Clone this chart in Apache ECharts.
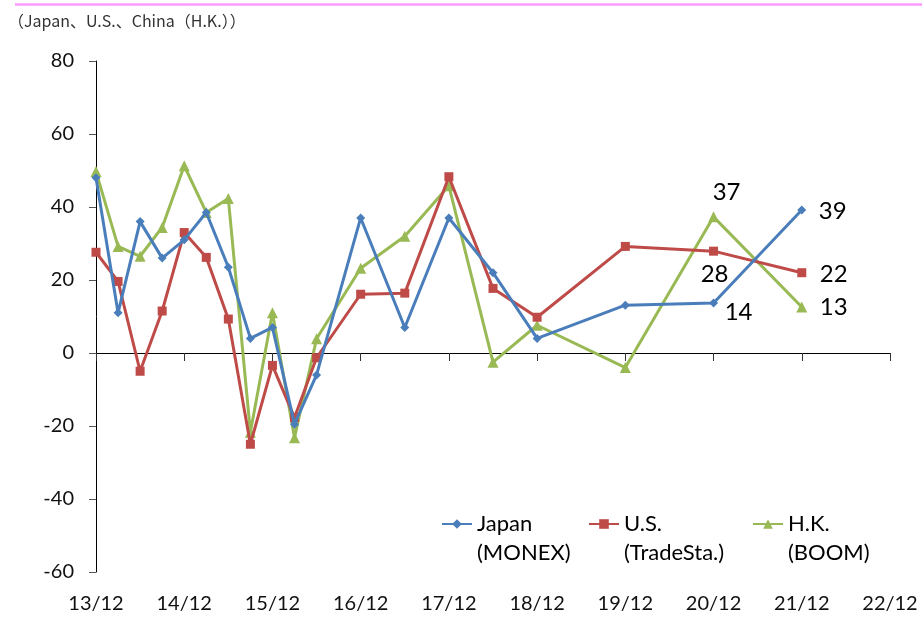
<!DOCTYPE html>
<html><head><meta charset="utf-8">
<script src="https://cdn.jsdelivr.net/npm/echarts@6/dist/echarts.min.js"></script>
<style>html,body{margin:0;padding:0;background:#fff}#c{width:922px;height:617px}</style>
</head><body><div id="c"></div>
<script>
// quarter index from 13/12 (0 = 13/12, 4 = 14/12, ...)
const quarters = [0,1,2,3,4,5,6,7,8,9,10,12,14,16,18,20,24,28,32];
const japan = [48, 11, 36, 26, 31, 38.5, 23.5, 4, 7, -19.5, -6, 37, 7, 37, 22, 4, 13.1, 13.7, 39.2];
const us    = [27.6, 19.6, -5, 11.5, 33, 26.2, 9.3, -25, -3.4, -17.7, -1.3, 16.1, 16.4, 48.3, 17.7, 9.8, 29.2, 27.9, 22];
const hk    = [49.7, 29.2, 26.5, 34.4, 51.3, 38.5, 42.3, -21.7, 11, -23.2, 3.9, 23.2, 32, 45.8, -2.5, 7.6, -4, 37.3, 12.6];
const seriesNames = ['Japan', 'U.S.', 'H.K.'];
const seriesSub = ['(MONEX)', '(TradeSta.)', '(BOOM)'];
const xTickLabels = ['13/12','14/12','15/12','16/12','17/12','18/12','19/12','20/12','21/12','22/12'];
const yTicks = [-60,-40,-20,0,20,40,60,80];
const titleText = '（Japan、U.S.、China（H.K.））';

const FONT = 'Lato, "Open Sans", sans-serif';
const colors = ['#4A7EBB', '#BE4B48', '#98B954'];
const symbols = ['diamond', 'rect', 'triangle'];
const symSizes = [9, 9, 11];
// label offsets for the labelled points (index in data -> offset)
const labelCfg = [
  {17: [25, 9], 18: [31, 1]},
  {17: [1, 23], 18: [32, 2]},
  {17: [13, -25], 18: [32, 0]}
];

function buildData(vals, cfg) {
  return vals.map((v, i) => {
    const item = {value: [quarters[i], v]};
    if (cfg[i]) {
      item.label = {
        show: true, position: 'inside', offset: cfg[i],
        formatter: p => String(Math.round(p.value[1])),
        fontSize: 24, fontFamily: FONT, color: '#000'
      };
    }
    return item;
  });
}

const allVals = [japan, us, hk];
const series = seriesNames.map((n, si) => ({
  name: n, type: 'line', xAxisIndex: 0, yAxisIndex: 0,
  data: buildData(allVals[si], labelCfg[si]),
  symbol: symbols[si], symbolSize: symSizes[si],
  lineStyle: {width: 3, color: colors[si]},
  itemStyle: {color: colors[si]},
  emphasis: {disabled: true},
  label: {show: false},
  animation: false, z: 3 - si + 2
}));

const legendLefts = [441, 588, 752];
const LH = 29;
const legends = seriesNames.map((n, i) => ({
  data: [n], left: legendLefts[i], top: 524 - LH * 1.5, padding: 0,
  itemWidth: 30, itemHeight: 12,
  formatter: name => '\n' + name + '\n' + seriesSub[i],
  textStyle: {fontSize: 22, fontFamily: FONT, color: '#000', lineHeight: LH},
  selectedMode: false
}));

const chart = echarts.init(document.getElementById('c'), null, {renderer: 'canvas'});
chart.setOption({
  animation: false,
  backgroundColor: '#fff',
  title: {text: titleText, left: 3, top: 8,
    textStyle: {fontSize: 16, fontWeight: 'normal', color: '#333', fontFamily: '"Noto Sans CJK JP", sans-serif'}},
  graphic: [{type: 'line', shape: {x1: 15, y1: 4.5, x2: 922, y2: 4.5}, style: {stroke: '#FF99FF', lineWidth: 2.5}}],
  legend: legends,
  grid: {left: 96, right: 32, top: 61, bottom: 45, containLabel: false},
  xAxis: [
    {type: 'value', min: 0, max: 36, interval: 4, position: 'bottom',
      axisLine: {show: false, onZero: false}, axisTick: {show: false}, splitLine: {show: false},
      axisLabel: {margin: 22, fontSize: 20, fontFamily: FONT, color: '#111',
        formatter: v => xTickLabels[v / 4]}},
    {type: 'value', min: 0, max: 36, interval: 4, position: 'bottom',
      axisLine: {show: true, onZero: true, lineStyle: {color: '#000', width: 1}},
      axisTick: {show: true, length: 8, lineStyle: {color: '#333'}},
      axisLabel: {show: false}, splitLine: {show: false}}
  ],
  yAxis: {type: 'value', min: yTicks[0], max: yTicks[yTicks.length - 1], interval: 20,
    axisLine: {show: true, lineStyle: {color: '#000', width: 1}},
    axisTick: {show: true, length: 7, lineStyle: {color: '#555'}},
    splitLine: {show: false},
    axisLabel: {margin: 22, fontSize: 20, fontFamily: FONT, color: '#111'}},
  series: series
});
</script></body></html>
